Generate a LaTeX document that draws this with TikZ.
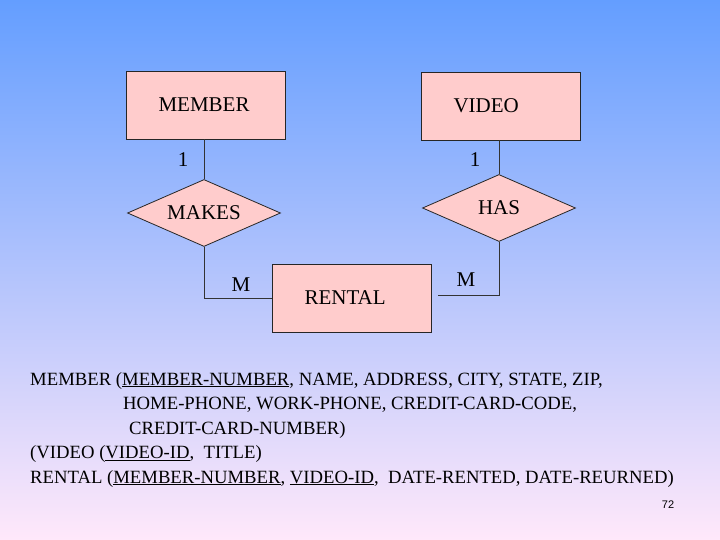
\documentclass[tikz,border=0pt]{standalone}
\usepackage{fontspec}
\setmainfont{Liberation Serif}
\setsansfont{Liberation Sans}
\usetikzlibrary{shapes.geometric}
\definecolor{bgtop}{RGB}{100,158,255}
\definecolor{bgmid}{RGB}{152,200,250}
\definecolor{bgbot}{RGB}{255,232,250}
\definecolor{boxpink}{RGB}{255,204,204}
\tikzset{
  entity/.style={draw=black!85, fill=boxpink, line width=0.8pt, minimum width=159pt, minimum height=68pt, text width=95pt, inner xsep=32pt, align=left, font=\fontsize{21}{24}\selectfont},
  relation/.style={diamond, aspect=2.3, draw=black!85, fill=boxpink, line width=0.8pt, minimum width=153pt, minimum height=67pt, inner sep=0pt, font=\fontsize{21}{24}\selectfont},
  link/.style={draw=black!80, line width=0.8pt},
  card/.style={font=\fontsize{21}{24}\selectfont},
  schema/.style={anchor=base west, inner sep=0pt, font=\fontsize{18.7}{22}\selectfont}
}

\begin{document}
\begin{tikzpicture}[x=1pt, y=-1pt]
\useasboundingbox (0,0) rectangle (720,540);
\shade[top color=bgtop, middle color=bgmid, bottom color=bgbot] (0,0) rectangle (720,540);

% entities and relationships
\node[entity] (member) at (206,105) {MEMBER};
\node[entity] (video) at (501,106) {VIDEO};
\node[entity] (rental) at (352,298) {RENTAL};
\node[relation] (makes) at (204,213) {MAKES};
\node[relation] (has) at (499,208) {HAS};

\draw[link] (makes.north) -- (makes.north |- member.south);
\draw[link] (has.north) -- (has.north |- video.south);
\draw[link] (makes.south) |- (rental.west);
\draw[link] (has.south) |- ([xshift=6pt,yshift=3pt]rental.east);

% cardinalities
\node[card] (c1) at (183,160) {1};
\node[card] (c2) at (475,160) {1};
\node[card] (c3) at (241,285) {M};
\node[card] (c4) at (466,280) {M};

% relational schema
\node[schema] (s1) at (30,385) {MEMBER (\underline{MEMBER-NUMBER}, NAME, ADDRESS, CITY, STATE, ZIP,};
\node[schema] (s2) at (123,409.5) {HOME-PHONE, WORK-PHONE, CREDIT-CARD-CODE,};
\node[schema] (s3) at (129,434) {CREDIT-CARD-NUMBER)};
\node[schema] (s4) at (30,458.5) {(VIDEO (\underline{VIDEO-ID},\ \ TITLE)};
\node[schema] (s5) at (30,483) {RENTAL (\underline{MEMBER-NUMBER}, \underline{VIDEO-ID},\ \ DATE-RENTED, DATE-REURNED)};

\node[font=\sffamily\fontsize{11}{13}\selectfont] (page) at (668,505) {72};
\end{tikzpicture}
\end{document}
